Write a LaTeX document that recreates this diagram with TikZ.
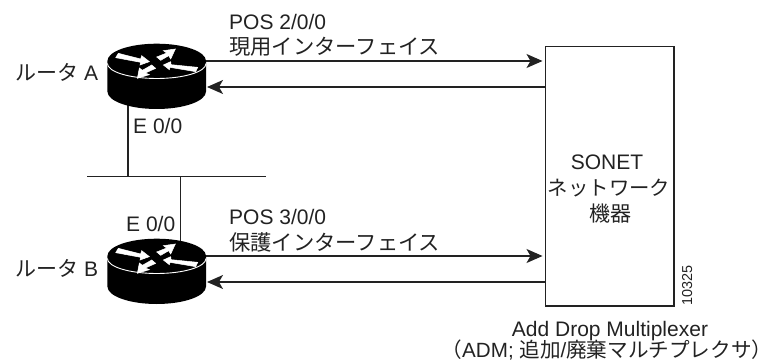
\documentclass[tikz,border=0pt]{standalone}
\usepackage{fontspec}
\setmainfont{Liberation Sans}
\newfontfamily\cjk{Noto Sans CJK JP}
\usetikzlibrary{arrows.meta}
\definecolor{ink}{HTML}{222222}
\tikzset{
  x=1pt,y=-1pt,
  lab/.style={inner sep=0pt,text=ink,font=\fontsize{21}{25}\selectfont,anchor=base west},
  labc/.style={lab,anchor=base},
  wire/.style={draw=ink,line width=1.2pt},
  arrowed/.style={wire,-{Stealth[length=16pt,width=14pt,inset=4pt]}},
  routerspot/.style={minimum width=99pt,minimum height=66pt,inner sep=0pt,outer sep=0pt},
  sonetbox/.style={draw=ink,line width=1.2pt,minimum width=128.3pt,minimum height=259.3pt,inner sep=0pt,outer sep=0pt},
  pics/router/.style={code={
    \fill[black] (-49.3,0) arc[start angle=180,end angle=360,x radius=49.3,y radius=17.3]
      -- (49.3,30.5) arc[start angle=0,end angle=180,x radius=49.3,y radius=17.5] -- cycle;
    \draw[white,line width=0.9pt] (-49.3,2.5) arc[start angle=180,end angle=0,x radius=49.3,y radius=15];
    \begin{scope}[x=0.3333pt,y=-0.3333pt,shift={(-56.67pt,25.33pt)}]
    \filldraw[white,line width=0.5pt] (47,66)--(55,53)--(122,70)--(125,60)--(148,78)--(120,88)--(122,80)--cycle;
    \filldraw[white,line width=0.5pt] (170,64)--(200,52)--(190,45)--(226,40)--(212,70)--(206,60)--(182,74)--cycle;
    \filldraw[white,line width=0.5pt] (190,88)--(212,78)--(213,87)--(293,95)--(287,108)--(210,95)--(208,102)--cycle;
    \filldraw[white,line width=0.5pt] (112,128)--(118,97)--(127,104)--(155,88)--(167,98)--(136,112)--(148,117)--cycle;
    \end{scope}
  }},
}
\begin{document}
\begin{tikzpicture}
\useasboundingbox (0,0) rectangle (770,363);
\coordinate (a1) at (205,61);
\coordinate (a1e) at (542.5,61);
\coordinate (a2) at (545.7,87);
\coordinate (a2e) at (207,87);
\coordinate (b1) at (205,256);
\coordinate (b1e) at (542.5,256);
\coordinate (b2) at (545.7,282);
\coordinate (b2e) at (207,282);
\coordinate (bl) at (87,176.7);
\coordinate (br) at (266,176.7);
\coordinate (ja) at (128,176.7);
\coordinate (jb) at (180.7,176.7);
\coordinate (ae) at (128,105);
\coordinate (be) at (180.7,245);

\draw[wire] (bl) -- (br);
\draw[wire] (ae) -- (ja);
\draw[wire] (jb) -- (be);
\draw[arrowed] (a1) -- (a1e);
\draw[arrowed] (a2) -- (a2e);
\draw[arrowed] (b1) -- (b1e);
\draw[arrowed] (b2) -- (b2e);

\pic at (156.7,61) {router};
\pic at (156.7,256) {router};
\node[routerspot] (ra) at (156.7,76) {};
\node[routerspot] (rb) at (156.7,271) {};
\node[sonetbox,anchor=north west] (adm) at (545.7,46.7) {};

\node[lab] (t1) at (229,30) {POS 2/0/0};
\node[lab,font=\fontsize{21.3}{25}\selectfont] (t2) at (229,55) {\cjk 現用インターフェイス};
\node[lab] (t3) at (229,225) {POS 3/0/0};
\node[lab,font=\fontsize{21.3}{25}\selectfont] (t4) at (229,250) {\cjk 保護インターフェイス};
\node[lab] (ta) at (15,81) {\cjk ルータ\rmfamily\ A};
\node[lab] (tb) at (15,276) {\cjk ルータ\rmfamily\ B};
\node[lab] (ea) at (133,134) {E 0/0};
\node[lab] (eb) at (126,231) {E 0/0};
\node[labc] (s1) at (607,170) {SONET};
\node[labc,font=\fontsize{20.4}{25}\selectfont] (s2) at (609,196) {\cjk ネットワーク};
\node[labc] (s3) at (610,222) {\cjk 機器};
\node[lab,font=\fontsize{14.4}{16}\selectfont,rotate=90] (num) at (692,306) {10325};
\node[labc] (c1) at (610,336) {Add Drop Multiplexer};
\node[labc,font=\fontsize{20.6}{25}\selectfont] (c2) at (607,357.5) {\cjk （\rmfamily ADM; \cjk 追加\rmfamily /\cjk 廃棄マルチプレクサ）};
\end{tikzpicture}
\end{document}
